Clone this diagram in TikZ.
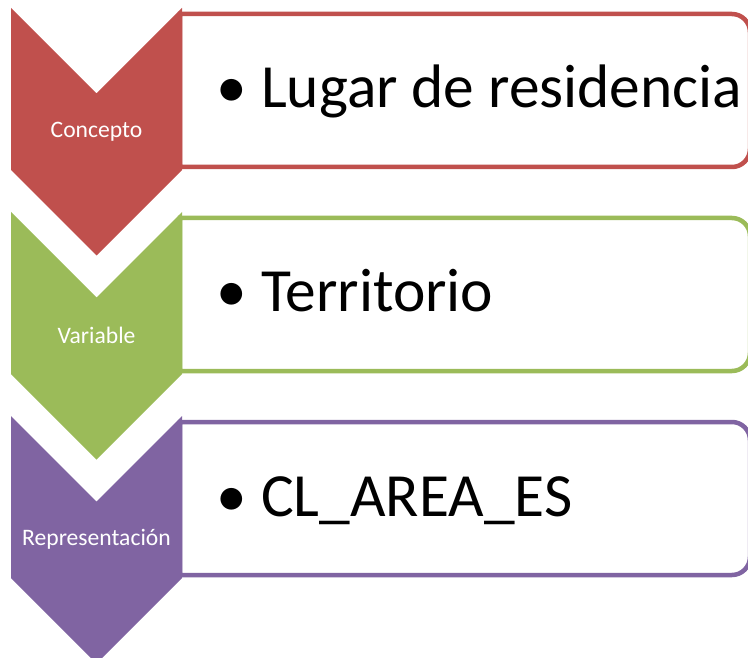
\documentclass[tikz,border=0pt]{standalone}
\usepackage{fontspec}
\setmainfont{Carlito}
\definecolor{cred}{HTML}{C0504D}
\definecolor{cgreen}{HTML}{9BBB59}
\definecolor{cpurple}{HTML}{8064A2}
\begin{document}
\begin{tikzpicture}[x=1pt,y=-1pt,
  chev/.style={fill=#1,draw=none},
  rowbox/.style={draw=#1,line width=4.5pt,fill=white},
  chevlabel/.style={text=white,inner sep=0pt,font=\fontsize{23.6}{28}\selectfont},
  bigtext/.style={anchor=base west,inner sep=0pt,font=\fontsize{61.4}{72}\selectfont}]
\useasboundingbox (0,0) rectangle (748,658);
\clip (0,0) rectangle (748,658);
% row 1
\draw[rowbox=cred] (180,14) -- (732,14) .. controls (741.9,14) and (750,22.1) .. (750,32) -- (750,149) .. controls (750,158.9) and (741.9,167) .. (732,167) -- (180,167) -- cycle;
\fill[chev=cred] (11,8) -- (96.5,93.5) -- (182,8) -- (182,170) -- (96.5,255.5) -- (11,170) -- cycle;
\node[chevlabel] (l1) at (96.5,131.75) {Concepto};
\node[bigtext] (b1) at (216,108) {•};
\node[bigtext] (t1) at (261,108) {Lugar de residencia};
% row 2
\draw[rowbox=cgreen] (180,218) -- (732,218) .. controls (741.9,218) and (750,226.1) .. (750,236) -- (750,353) .. controls (750,362.9) and (741.9,371) .. (732,371) -- (180,371) -- cycle;
\fill[chev=cgreen] (11,212) -- (96.5,297.5) -- (182,212) -- (182,374) -- (96.5,459.5) -- (11,374) -- cycle;
\node[chevlabel] (l2) at (96.5,335.75) {Variable};
\node[bigtext] (b2) at (216,312) {•};
\node[bigtext] (t2) at (261,312) {Territorio};
% row 3
\draw[rowbox=cpurple] (180,422) -- (732,422) .. controls (741.9,422) and (750,430.1) .. (750,440) -- (750,557) .. controls (750,566.9) and (741.9,575) .. (732,575) -- (180,575) -- cycle;
\fill[chev=cpurple] (11,416) -- (96.5,501.5) -- (182,416) -- (182,578) -- (96.5,663.5) -- (11,578) -- cycle;
\node[chevlabel] (l3) at (96.5,539.75) {Representación};
\node[bigtext] (b3) at (216,516) {•};
\node[bigtext] (t3) at (261,516) {CL\_AREA\_ES};
\end{tikzpicture}
\end{document}
